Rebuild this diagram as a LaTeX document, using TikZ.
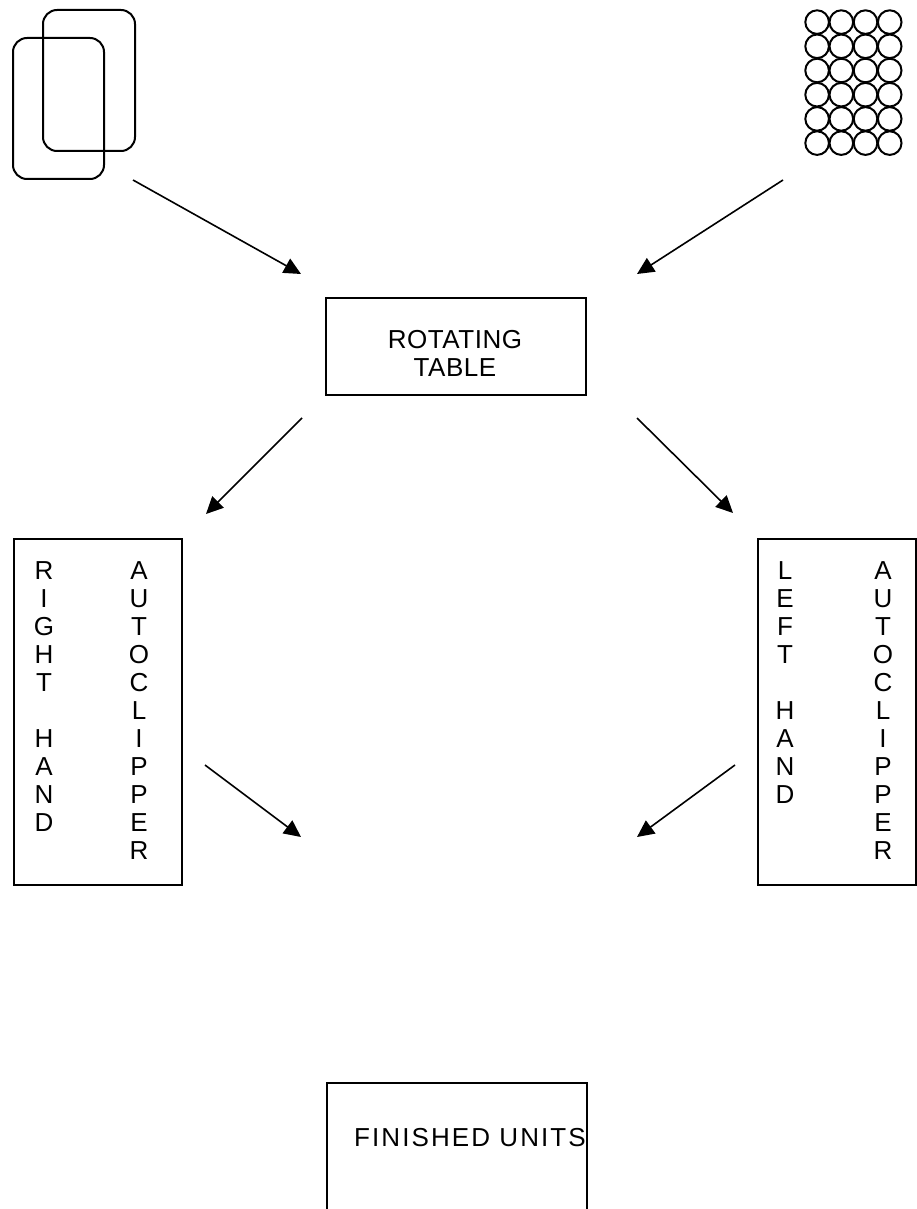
\documentclass[tikz,border=0pt]{standalone}
\usepackage{fontspec}
\setmainfont{Liberation Sans}
\usetikzlibrary{arrows.meta}
\begin{document}
\begin{tikzpicture}[x=1pt,y=-1pt,
  line/.style={line width=2pt},
  arr/.style={line width=1.6pt,-{Triangle[length=17pt,width=16pt]}},
  box/.style={draw,line width=1.8pt},
  lbl/.style={font={\fontsize{26}{28}\selectfont}},
  col/.style={font={\fontsize{26}{28}\selectfont},align=center,anchor=north,inner sep=0pt}]
\useasboundingbox (0,0) rectangle (917,1209);
% overlapping rounded rectangles
\draw[line,rounded corners=14pt] (43,10) rectangle (135,151);
\draw[line,rounded corners=14pt] (13,38) rectangle (104,179);
% grid of circles
\foreach \i in {0,...,3}{
  \foreach \j in {0,...,5}{
    \draw[line] (817.1+24.2*\i,22.1+24.2*\j) circle (11.8pt);
  }
}
% arrows from the inputs
\coordinate (s1) at (133,180);
\coordinate (e1) at (301,274);
\coordinate (s2) at (783,180);
\coordinate (e2) at (637,274);
\draw[arr] (s1) -- (e1);
\draw[arr] (s2) -- (e2);
% rotating table
\node[box,minimum width=260pt,minimum height=97pt,inner sep=0pt] (rot) at (456,346.5) {};
\node[lbl,align=center] (rottxt) at (455,353) {\addfontfeature{LetterSpace=2}ROTATING\\\addfontfeature{LetterSpace=2}TABLE};
\coordinate (s3) at (302,418);
\coordinate (e3) at (206,514);
\coordinate (s4) at (637,418);
\coordinate (e4) at (733,513);
\draw[arr] (s3) -- (e3);
\draw[arr] (s4) -- (e4);
% right hand autoclipper
\node[box,minimum width=168pt,minimum height=346pt,inner sep=0pt] (rh) at (98,712) {};
\node[col] (rh1) at (44,561) {R\\I\\G\\H\\T\\\mbox{}\\H\\A\\N\\D};
\node[col] (rh2) at (139,561) {A\\U\\T\\O\\C\\L\\I\\P\\P\\E\\R};
% left hand autoclipper
\node[box,minimum width=158pt,minimum height=346pt,inner sep=0pt] (lh) at (837,712) {};
\node[col] (lh1) at (785,561) {L\\E\\F\\T\\\mbox{}\\H\\A\\N\\D};
\node[col] (lh2) at (883,561) {A\\U\\T\\O\\C\\L\\I\\P\\P\\E\\R};
\coordinate (s5) at (205,765);
\coordinate (e5) at (301,837);
\coordinate (s6) at (735,765);
\coordinate (e6) at (637,837);
\draw[arr] (s5) -- (e5);
\draw[arr] (s6) -- (e6);
% finished units (box open at bottom edge)
\coordinate (f1) at (327,1215);
\coordinate (f2) at (327,1083);
\coordinate (f3) at (587,1083);
\coordinate (f4) at (587,1215);
\draw[line,line width=1.8pt] (f1) -- (f2) -- (f3) -- (f4);
\node[lbl] (fin) at (470,1138) {\addfontfeature{LetterSpace=8}FINISHED UNITS};
\end{tikzpicture}
\end{document}
